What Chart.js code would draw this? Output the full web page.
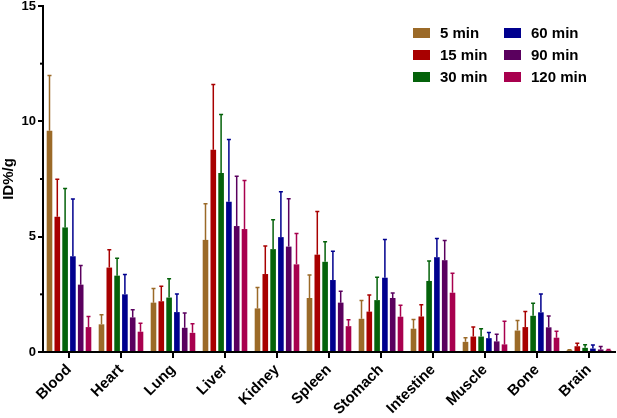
<!DOCTYPE html>
<html>
<head>
<meta charset="utf-8">
<script src="https://cdn.jsdelivr.net/npm/chart.js@4.4.1/dist/chart.umd.min.js"></script>
<style>
  html, body { margin: 0; padding: 0; background: #fff; }
  #wrap { width: 617px; height: 418px; }
</style>
</head>
<body>
<div id="wrap"><canvas id="biodist" width="617" height="418"></canvas></div>
<script>
// Organs on the x axis
const organs = ['Blood', 'Heart', 'Lung', 'Liver', 'Kidney', 'Spleen', 'Stomach', 'Intestine', 'Muscle', 'Bone', 'Brain'];
const timeLabels = ['5 min', '15 min', '30 min', '60 min', '90 min', '120 min'];

// Mean ID%/g and upper error (SD) per time point
const mean5 = [9.59, 1.20, 2.14, 4.86, 1.89, 2.34, 1.44, 1.01, 0.44, 0.93, 0.08];
const sd5 = [2.40, 0.42, 0.61, 1.57, 0.91, 1.00, 0.79, 0.40, 0.18, 0.44, 0.02];
const mean15 = [5.86, 3.66, 2.20, 8.77, 3.38, 4.22, 1.75, 1.54, 0.67, 1.08, 0.25];
const sd15 = [1.63, 0.77, 0.65, 2.83, 1.22, 1.87, 0.72, 0.51, 0.41, 0.68, 0.13];
const mean30 = [5.40, 3.31, 2.36, 7.76, 4.46, 3.91, 2.25, 3.08, 0.67, 1.57, 0.18];
const sd30 = [1.69, 0.75, 0.82, 2.54, 1.27, 0.87, 0.99, 0.87, 0.34, 0.54, 0.13];
const mean60 = [4.15, 2.50, 1.73, 6.51, 4.98, 3.12, 3.22, 4.11, 0.60, 1.72, 0.15];
const sd60 = [2.48, 0.86, 0.78, 2.70, 1.97, 1.25, 1.66, 0.81, 0.25, 0.79, 0.15];
const mean90 = [2.92, 1.50, 1.05, 5.46, 4.57, 2.14, 2.34, 3.98, 0.46, 1.07, 0.11];
const sd90 = [0.83, 0.33, 0.64, 2.16, 2.07, 0.49, 0.22, 0.85, 0.31, 0.49, 0.13];
const mean120 = [1.08, 0.88, 0.83, 5.33, 3.80, 1.12, 1.53, 2.57, 0.33, 0.62, 0.08];
const sd120 = [0.46, 0.37, 0.40, 2.11, 1.34, 0.28, 0.50, 0.84, 1.00, 0.28, 0.03];

const means = [mean5, mean15, mean30, mean60, mean90, mean120];
const errors = [sd5, sd15, sd30, sd60, sd90, sd120];
const colors = ['#9b6a28', '#a80000', '#04620a', '#00008e', '#5a005e', '#a8004e'];

const FONT = '"Liberation Sans", Arial, sans-serif';

// Upper-only error bars, drawn from the bar elements and the y scale
const errorBars = {
    id: 'errorBars',
    afterDatasetsDraw(chart) {
        const ctx = chart.ctx;
        const y = chart.scales.y;
        ctx.save();
        chart.data.datasets.forEach((ds, i) => {
            const meta = chart.getDatasetMeta(i);
            ctx.strokeStyle = ds.backgroundColor;
            ctx.lineWidth = 1.5;
            meta.data.forEach((bar, j) => {
                const top = y.getPixelForValue(ds.data[j] + ds.errors[j]);
                ctx.beginPath();
                ctx.moveTo(bar.x, bar.y);
                ctx.lineTo(bar.x, top);
                ctx.moveTo(bar.x - 2, top);
                ctx.lineTo(bar.x + 2, top);
                ctx.stroke();
            });
        });
        ctx.restore();
    }
};

// Shorter minor ticks at the half steps of the y axis
const minorTicks = {
    id: 'minorTicks',
    afterDraw(chart) {
        const ctx = chart.ctx;
        const y = chart.scales.y;
        const left = chart.chartArea.left;
        ctx.save();
        ctx.strokeStyle = '#000';
        ctx.lineWidth = 2;
        y.ticks.forEach(t => {
            if (t.value % 5 === 0) return;
            const py = y.getPixelForValue(t.value);
            ctx.beginPath();
            ctx.moveTo(left - 3, py);
            ctx.lineTo(left, py);
            ctx.stroke();
        });
        ctx.restore();
    }
};

// Two-column legend in the upper right
const cornerLegend = {
    id: 'cornerLegend',
    afterDraw(chart) {
        const ctx = chart.ctx;
        ctx.save();
        ctx.font = 'bold 15px ' + FONT;
        ctx.textBaseline = 'middle';
        chart.data.datasets.forEach((ds, i) => {
            const col = Math.floor(i / 3);
            const row = i % 3;
            const bx = col === 0 ? 413 : 504;
            const cy = 33 + row * 22;
            ctx.fillStyle = ds.backgroundColor;
            ctx.fillRect(bx, cy - 5, 17, 10);
            ctx.fillStyle = '#000';
            ctx.fillText(ds.label, bx + 27, cy + 1);
        });
        ctx.restore();
    }
};

const datasets = timeLabels.map((label, i) => ({
    label: label,
    data: means[i],
    errors: errors[i],
    backgroundColor: colors[i],
    borderWidth: 0,
    categoryPercentage: 0.9,
    barPercentage: 0.72
}));

new Chart(document.getElementById('biodist'), {
    type: 'bar',
    data: { labels: organs, datasets: datasets },
    options: {
        responsive: false,
        animation: false,
        layout: { padding: { top: 0, right: 2, left: 0, bottom: 0 } },
        plugins: {
            legend: { display: false },
            tooltip: { enabled: false }
        },
        scales: {
            x: {
                offset: true,
                grid: {
                    display: true,
                    offset: false,
                    drawOnChartArea: false,
                    drawTicks: true,
                    tickLength: 6,
                    lineWidth: 2,
                    color: '#000'
                },
                border: { display: true, width: 2, color: '#000' },
                ticks: {
                    autoSkip: false,
                    minRotation: 45,
                    maxRotation: 45,
                    padding: 3,
                    color: '#000',
                    font: { family: FONT, size: 15, weight: 'bold' }
                },
                afterFit(scale) { scale.height = 66; }
            },
            y: {
                min: 0,
                max: 15,
                grid: {
                    display: true,
                    drawOnChartArea: false,
                    drawTicks: true,
                    tickLength: 5,
                    lineWidth: 2,
                    color: ctx => (ctx.tick && ctx.tick.value % 5 === 0 ? '#000' : 'rgba(0,0,0,0)')
                },
                border: { display: true, width: 2, color: '#000' },
                ticks: {
                    stepSize: 2.5,
                    padding: 2,
                    color: '#000',
                    font: { family: FONT, size: 13, weight: 'bold' },
                    callback: v => (v % 5 === 0 ? v : '')
                },
                title: {
                    display: true,
                    text: 'ID%/g',
                    color: '#000',
                    padding: { top: 0, bottom: 0 },
                    font: { family: FONT, size: 15, weight: 'bold' }
                },
                afterFit(scale) {
                    scale.width = 43;
                    scale.paddingTop = 6;
                }
            }
        }
    },
    plugins: [errorBars, minorTicks, cornerLegend]
});
</script>
</body>
</html>
